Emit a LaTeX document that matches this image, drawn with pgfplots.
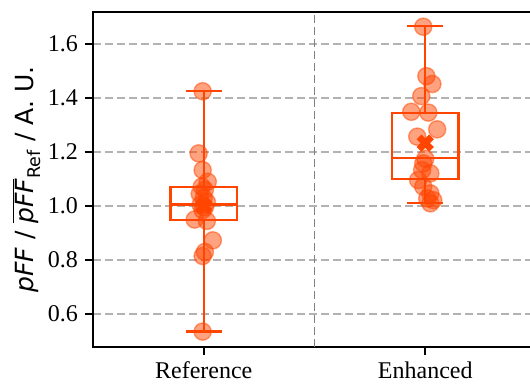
\documentclass[border=0pt]{standalone}
\usepackage{fontspec}
\setmainfont{Liberation Serif}
\newfontfamily\djv{DejaVu Sans}
\newfontfamily\lser{Liberation Serif}
\usepackage{pgfplots}
\pgfplotsset{compat=1.18}
\usepgfplotslibrary{statistics}
\definecolor{orr}{RGB}{255,69,0}
\definecolor{gridc}{RGB}{178,178,178}
\definecolor{divc}{RGB}{128,128,128}
\pgfplotstableread{
x y
-0.005 1.425
-0.023 1.195
-0.005 1.133
0.018 1.090
-0.009 1.072
0.005 1.060
-0.018 1.045
0.000 1.030
0.014 1.015
-0.014 1.005
0.005 0.995
-0.005 0.985
-0.041 0.950
0.014 0.945
0.041 0.873
0.005 0.830
-0.005 0.815
-0.005 0.535
}\refdata
\pgfplotstableread{
x y
0.991 1.664
1.005 1.481
1.032 1.452
0.982 1.407
0.937 1.349
1.014 1.346
1.054 1.284
0.964 1.257
1.000 1.175
0.991 1.158
0.986 1.133
1.023 1.121
0.968 1.096
0.991 1.072
1.023 1.047
1.009 1.028
1.036 1.022
1.023 1.010
}\enhdata
\begin{document}
\begin{tikzpicture}
\begin{axis}[
  scale only axis, width=221.5pt, height=167.5pt,
  xmin=-0.5, xmax=1.5, ymin=0.478, ymax=1.7185,
  xtick={0,1}, xticklabels={Reference,Enhanced},
  ytick={0.6,0.8,1.0,1.2,1.4,1.6},
  yticklabels={0.6,0.8,1.0,1.2,1.4,1.6},
  tick align=outside, xtick pos=bottom, ytick pos=left,
  major tick length=4pt,
  every tick/.style={black, line width=1pt},
  axis line style={line width=1pt},
  ymajorgrids,
  grid style={gridc, line width=0.8pt, dash pattern=on 4pt off 2pt},
  extra x ticks={0.5}, extra x tick labels={},
  extra x tick style={xmajorgrids=true, ymajorgrids=false, major tick length=0pt,
     grid style={divc, line width=0.75pt, dash pattern=on 4pt off 2pt}},
  tick label style={font=\lser\fontsize{12}{14}\selectfont},
  ylabel={\textit{pFF} / $\overline{\mbox{\djv\itshape pFF}}_{\mbox{\djv\fontsize{8.75pt}{10pt}\selectfont Ref}}$ / A.~U.},
  ylabel style={font=\djv\fontsize{12.5}{15}\selectfont, at={(axis description cs:-0.151,0.5)}, anchor=center},
  boxplot/draw direction=y,
]
\addplot[orr, line width=1.2pt, boxplot prepared={draw position=0, lower whisker=0.535, lower quartile=0.948, median=1.005, upper quartile=1.07, upper whisker=1.425, box extend=0.3, whisker extend=0.163}] coordinates {};
\addplot[orr, line width=1.2pt, boxplot prepared={draw position=1, lower whisker=1.011, lower quartile=1.10, median=1.178, upper quartile=1.344, upper whisker=1.667, box extend=0.3, whisker extend=0.163}] coordinates {};
\addplot[only marks, mark=*, mark size=4.3pt, mark options={draw=orr, fill=orr, fill opacity=0.5, draw opacity=0.5, line width=0.7pt}] table[x=x,y=y] {\refdata};
\addplot[only marks, mark=*, mark size=4.3pt, mark options={draw=orr, fill=orr, fill opacity=0.5, draw opacity=0.5, line width=0.7pt}] table[x=x,y=y] {\enhdata};
\addplot[only marks, mark=x, mark size=4.4pt, mark options={orr, line width=3.3pt}] coordinates {(0,1.0) (1,1.233)};
\end{axis}
\pgfresetboundingbox
\path[use as bounding box] ([xshift=-46.5pt,yshift=-20.5pt]current axis.south west) rectangle ([xshift=218.5pt,yshift=6pt]current axis.north west);
\end{tikzpicture}
\end{document}
